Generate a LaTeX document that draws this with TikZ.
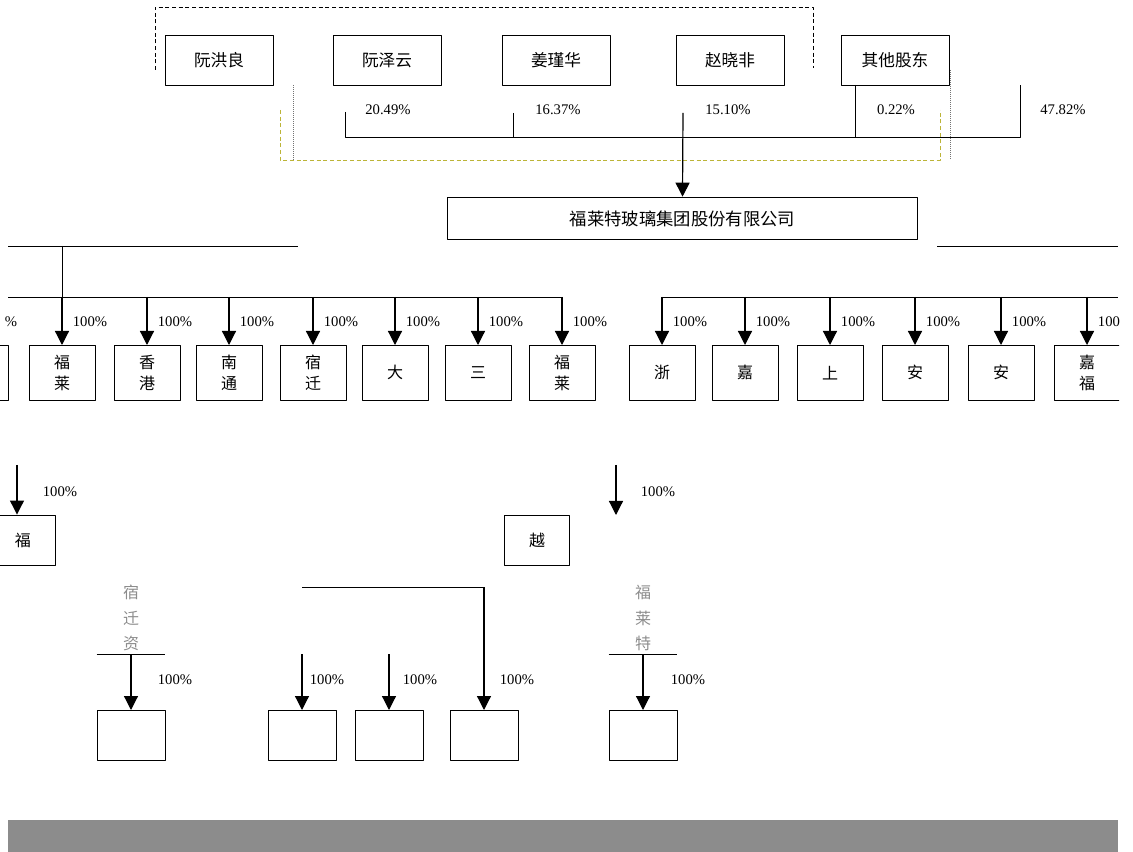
\documentclass[tikz,border=0pt]{standalone}
\usepackage{fontspec}
\setmainfont{Liberation Serif}
\newfontfamily\cjk{Noto Sans CJK SC}
\usetikzlibrary{arrows.meta}
\tikzset{
  ren/.style={draw, minimum width=81pt, minimum height=37.5pt, inner sep=0pt, font=\cjk\fontsize{12.5}{15}\selectfont},
  gongsi/.style={draw, minimum width=49.5pt, minimum height=41pt, anchor=north, align=center, inner sep=0pt, font=\cjk\fontsize{12}{16}\selectfont},
  xiaji/.style={draw, minimum width=49pt, minimum height=37.5pt, inner sep=0pt, font=\cjk\fontsize{12}{16}\selectfont},
  dibu/.style={draw, minimum width=51pt, minimum height=37.5pt, anchor=north},
  mingzi/.style={anchor=south, minimum width=51pt, align=center, inner sep=2pt, text=black!45, font=\cjk\fontsize{12}{19}\selectfont},
  bili/.style={font=\fontsize{11}{13}\selectfont},
  lian/.style={->, line width=0.9pt}
}
\begin{document}
\begin{tikzpicture}[x=0.75pt, y=-0.75pt, line join=round, line width=0.7pt, >={Triangle[width=10.5pt,length=10.5pt]}]
\useasboundingbox (0,0) rectangle (1133,852);
\clip (0,0) rectangle (1119,852);
\draw[dash pattern=on 3pt off 2pt, line width=0.5pt] (155,70) -- (155,7) -- (813,7) -- (813,68);
\draw[densely dotted, black!55, line width=0.5pt] (293,85) -- (293,160);
\draw[densely dotted, black!55, line width=0.5pt] (950,70) -- (950,160);
\draw[dash pattern=on 3pt off 2pt, yellow!70!black] (280,110) -- (280,160) -- (940,160) -- (940,110);
\node[ren] (gd1) at (219,60) {阮洪良};
\node[ren] (gd2) at (387,60) {阮泽云};
\node[ren] (gd3) at (556,60) {姜瑾华};
\node[ren] (gd4) at (730,60) {赵晓非};
\node[ren] (gd5) at (895,60) {其他股东};
\foreach \x/\b in {388/20.49\%, 558/16.37\%, 728/15.10\%, 896/0.22\%, 1063/47.82\%}
  \node[bili] at (\x,110) {\b};
\coordinate (a1) at (345,112);
\coordinate (a2) at (513,113);
\coordinate (a3) at (683,113);
\coordinate (a4) at (855,85);
\coordinate (a5) at (1020,85);
\coordinate (b1) at (345,137);
\coordinate (b5) at (1020,137);
\draw (a1) -- (b1) -- (b5) -- (a5);
\draw (a2) -- (a2 |- b1);
\draw (a4) -- (a4 |- b1);
\node[draw, minimum width=353pt, minimum height=32pt, font=\cjk\fontsize{13}{15}\selectfont] (gs) at (682.5,218.5) {福莱特玻璃集团股份有限公司};
\draw[lian] (a3) -- (gs.north);
\draw (8,246) -- (298,246);
\draw (937,246) -- (1118,246);
\coordinate (c0) at (62,246);
\draw (c0) -- (62,297);
\draw (8,297) -- (562,297);
\draw (662,297) -- (1118,297);
\node[gongsi] (z0) at (-25,345) {};
\node[bili, anchor=west] at (0,322) {\%};
\foreach \x/\ten [count=\i] in {62/福\\莱, 147/香\\港, 229/南\\通, 313/宿\\迁, 395/大, 478/三, 562/福\\莱, 662/浙, 745/嘉, 830/上, 915/安, 1001/安, 1087/嘉\\福}{
  \node[gongsi] (z\i) at (\x,345) {\ten};
  \coordinate (d\i) at (\x,297);
  \draw[lian] (d\i) -- (z\i.north);
  \node[bili, anchor=west] at ({\x+6},322) {100\%};
}
\node[xiaji] (r1) at (23,540) {福};
\node[xiaji] (r2) at (537,540) {越};
\coordinate (e1) at (17,465);
\coordinate (e2) at (616,465);
\coordinate (e3) at (616,515);
\draw[lian] (e1) -- (e1 |- r1.north);
\draw[lian] (e2) -- (e3);
\node[bili, anchor=west] at (38,492) {100\%};
\node[bili, anchor=west] at (636,492) {100\%};
\node[mingzi] (s1) at (131,654) {宿\\迁\\资};
\node[mingzi] (s2) at (643,654) {福\\莱\\特};
\draw (s1.south west) -- (s1.south east);
\draw (s2.south west) -- (s2.south east);
\foreach \x [count=\i] in {131,302,389,484,643}
  \node[dibu] (t\i) at (\x,710) {};
\coordinate (m1) at (302,587);
\coordinate (m2) at (484,587);
\coordinate (n2) at (302,654);
\coordinate (n3) at (389,654);
\draw (m1) -- (m2);
\draw[lian] (s1.south) -- (t1.north);
\draw[lian] (n2) -- (t2.north);
\draw[lian] (n3) -- (t3.north);
\draw[lian] (m2) -- (t4.north);
\draw[lian] (s2.south) -- (t5.north);
\foreach \x in {175,327,420,517,688}
  \node[bili] at (\x,680) {100\%};
\fill[black!45] (8,820) rectangle (1118,852);
\end{tikzpicture}
\end{document}
